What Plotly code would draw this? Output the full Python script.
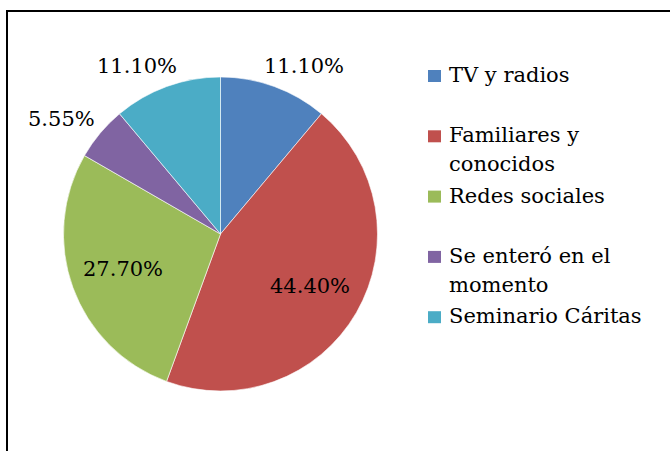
import math
import plotly.graph_objects as go

labels = ["TV y radios", "Familiares y<br>conocidos", "Redes sociales",
          "Se enteró en el<br>momento", "Seminario Cáritas"]
values = [11.10, 44.40, 27.70, 5.55, 11.10]
pct_text = ["11.10%", "44.40%", "27.70%", "5.55%", "11.10%"]
label_inside = [False, True, True, False, False]
colors = ["#4F81BD", "#C0504D", "#9BBB59", "#8064A2", "#4BACC6"]

W, H = 670, 451
cx, cy, r = 220.5, 234, 157  # pie centre / radius in pixels
SERIF = "DejaVu Serif, serif"
FS = 21

fig = go.Figure(go.Pie(
    labels=labels,
    values=values,
    textinfo="none",
    sort=False,
    direction="clockwise",
    rotation=0,
    showlegend=False,
    marker=dict(colors=colors, line=dict(color="white", width=0.6)),
    domain=dict(x=[(cx - r) / W, (cx + r) / W], y=[1 - (cy + r) / H, 1 - (cy - r) / H]),
))

# percentage labels, excel style: inside for the big slices, outside for the small ones
total = sum(values)
acc = 0
annots = []
for v, t, inside in zip(values, pct_text, label_inside):
    mid = (acc + v / 2) / total * 2 * math.pi
    acc += v
    d = 0.66 * r if inside else 1.14 * r
    px_ = cx + d * math.sin(mid)
    py_ = cy - d * math.cos(mid)
    shift = 0 if inside else (22 if math.sin(mid) > 0 else -22)
    annots.append(dict(x=px_ / W, y=1 - py_ / H, xref="paper", yref="paper",
                       xanchor="center", yanchor="middle",
                       text=t, showarrow=False, xshift=shift,
                       font=dict(family=SERIF, size=FS, color="black")))

# legend drawn by hand so the line spacing matches the original
leg_x, leg_y, item_h, line_h = 428, 76, 60.3, 29
shapes = []
for i, (lab, col) in enumerate(zip(labels, colors)):
    y0 = leg_y + i * item_h
    shapes.append(dict(type="rect", xref="paper", yref="paper",
                       x0=leg_x / W, x1=(leg_x + 13) / W,
                       y0=1 - (y0 + 6) / H, y1=1 - (y0 - 6) / H,
                       fillcolor=col, line=dict(width=0)))
    for j, part in enumerate(lab.split("<br>")):
        annots.append(dict(x=(leg_x + 19) / W, y=1 - (y0 - 1 + j * line_h) / H,
                           xref="paper", yref="paper", xanchor="left", yanchor="middle",
                           text=part, showarrow=False,
                           font=dict(family=SERIF, size=FS, color="black")))

shapes.append(dict(type="rect", xref="paper", yref="paper",
                   x0=7 / W, x1=1.2, y0=-0.2, y1=1 - 11 / H,
                   line=dict(color="black", width=2)))

fig.update_layout(
    width=W, height=H,
    margin=dict(l=0, r=0, t=0, b=0),
    paper_bgcolor="white",
    font=dict(family=SERIF, color="black"),
    annotations=annots,
    shapes=shapes,
)

# page body has an 8px default margin; drop it so the figure sits at 0,0
fig.write_html("out.html", config={"displayModeBar": False},
               post_script="document.body.style.margin='0';")
